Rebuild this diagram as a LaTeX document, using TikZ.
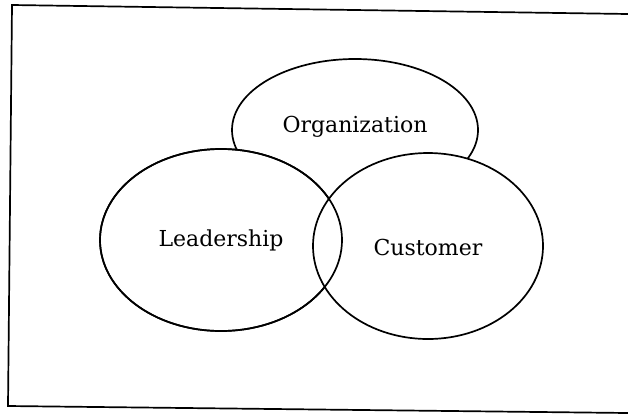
\documentclass[tikz,border=0pt]{standalone}
\usepackage{fontspec}
\setmainfont{DejaVu Serif}
\usetikzlibrary{shapes.geometric}
\tikzset{
  venn/.style={ellipse, draw=black, line width=1.7pt, inner sep=0pt},
  lbl/.style={font=\fontsize{22}{25}\selectfont, text=black},
  frame/.style={draw=black, line width=1.7pt}
}
\begin{document}
\begin{tikzpicture}[x=1pt,y=-1pt]
\useasboundingbox (0,0) rectangle (628,413);
\coordinate (tr) at (628,14);
\coordinate (tl) at (12,5);
\coordinate (bl) at (8,406);
\coordinate (br) at (628,413);
\draw[frame] (tr) -- (tl) -- (bl) -- (br);
\node[venn, minimum width=246pt, minimum height=142pt] (org) at (355,130) {};
\node[venn, fill=white, minimum width=242pt, minimum height=182pt] (lead) at (221,240) {};
\node[venn, fill=white, minimum width=230pt, minimum height=186pt] (cust) at (428,246) {};
\node[venn, minimum width=242pt, minimum height=182pt] (leadrim) at (221,240) {};
\node[lbl] (torg) at (355,127) {Organization};
\node[lbl] (tlead) at (221,240) {Leadership};
\node[lbl] (tcust) at (428,247) {Customer};
\end{tikzpicture}
\end{document}
